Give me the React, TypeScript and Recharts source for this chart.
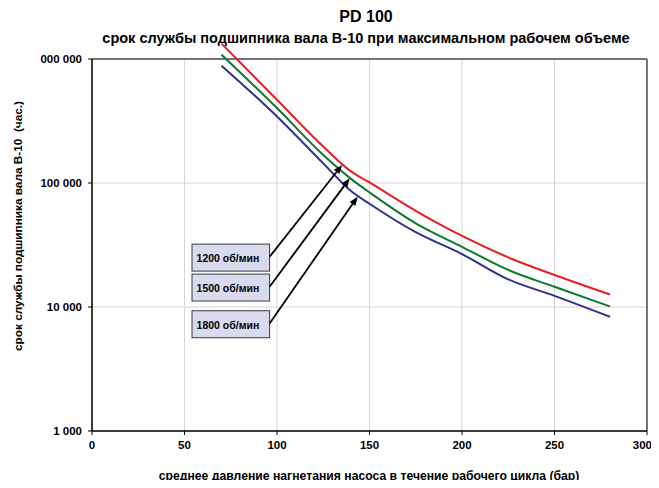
import { LineChart, Line, XAxis, YAxis, CartesianGrid, ReferenceLine } from 'recharts';

// среднее давление (бар)
const pressure = [70, 100, 125, 140, 150, 175, 200, 225, 250, 280];
// срок службы, час.
const life1200 = [1330000, 469000, 197000, 124000, 101000, 59600, 37400, 25100, 18100, 12600];
const life1500 = [1083000, 402000, 168000, 108000, 84000, 47300, 30600, 19900, 14550, 10100];
const life1800 = [883000, 344000, 144000, 86100, 68000, 40100, 26700, 16700, 12300, 8340];

const xTicks = [0, 50, 100, 150, 200, 250, 300];
const yTicks = [1000, 10000, 100000, 1000000];

// подписи со стрелками
const noteLabels = ['1200 об/мин', '1500 об/мин', '1800 об/мин'];
const noteFromX = 96;
const noteFromY = [25400, 14560, 7370];
const noteToX = [135.2, 139.3, 143.6];
const noteToY = [140000, 109000, 77600];

const data = pressure.map((p, i) => ({
  p,
  r1200: life1200[i],
  r1500: life1500[i],
  r1800: life1800[i],
}));

const font = '"Liberation Sans", Arial, sans-serif';

const fmt = (v: number) => String(v).replace(/\B(?=(\d{3})+(?!\d))/g, ' ');

const YTick = (props: any) => {
  const { x, y, payload } = props;
  return (
    <g>
      <clipPath id="ytick-clip">
        <rect x={30} y={0} width={100} height={480} />
      </clipPath>
      <text
        x={x}
        y={y}
        dy={4}
        textAnchor="end"
        fill="#000"
        fontSize={11.5}
        fontWeight="bold"
        fontFamily={font}
        clipPath="url(#ytick-clip)"
      >
        {fmt(payload.value)}
      </text>
    </g>
  );
};

const makeArrow = (label: string) => (props: any) => {
  const { x1, y1, x2, y2 } = props;
  const a = Math.atan2(y2 - y1, x2 - x1);
  const L = 9;
  const W = 3.5;
  const bx = x2 - L * Math.cos(a);
  const by = y2 - L * Math.sin(a);
  const px = -Math.sin(a) * W;
  const py = Math.cos(a) * W;
  return (
    <g>
      <rect x={x1 - 77.6} y={y1 - 12.7} width={77.6} height={27} fill="#d9daee" stroke="#3a3a3a" strokeWidth={1} />
      <text x={x1 - 73} y={y1 + 5.3} fontSize={10.5} fontWeight="bold" fontFamily={font} fill="#000">
        {label}
      </text>
      <line x1={x1} y1={y1} x2={bx} y2={by} stroke="#000" strokeWidth={1.8} />
      <polygon points={`${x2},${y2} ${bx + px},${by + py} ${bx - px},${by - py}`} fill="#000" />
    </g>
  );
};

const App = () => {
  return (
    <div style={{ position: 'relative', width: 643, height: 472, fontFamily: font }}>
      <style>{`
        .recharts-line, .recharts-line g, .recharts-line path { clip-path: none !important; }
        .recharts-surface { overflow: visible; }
      `}</style>
      <div style={{ position: 'absolute', left: 0, width: 716, top: 1, textAlign: 'center', fontSize: 16, lineHeight: '16px', fontWeight: 'bold' }}>
        PD 100
      </div>
      <div style={{ position: 'absolute', left: 0, width: 716, top: 23, textAlign: 'center', fontSize: 14.5, lineHeight: '15px', fontWeight: 'bold', whiteSpace: 'nowrap' }}>
        срок службы подшипника вала В-10 при максимальном рабочем объеме
      </div>
      <LineChart width={643} height={472} data={data} margin={{ top: 51, right: 4, bottom: 19, left: 0 }}>
        <CartesianGrid stroke="#d4d4da" strokeWidth={1} />
        <XAxis
          dataKey="p"
          type="number"
          domain={[0, 300]}
          ticks={xTicks}
          height={30}
          axisLine={{ stroke: '#000', strokeWidth: 1.5 }}
          tickLine={{ stroke: '#000' }}
          tickSize={4}
          tickMargin={6}
          tick={{ fill: '#000', fontSize: 11.5, fontWeight: 'bold', fontFamily: font }}
        />
        <YAxis
          type="number"
          scale="log"
          domain={[1000, 1000000]}
          allowDataOverflow
          ticks={yTicks}
          width={84}
          axisLine={{ stroke: '#000', strokeWidth: 1.5 }}
          tickLine={{ stroke: '#000' }}
          tickSize={4}
          tickMargin={6}
          tick={<YTick />}
        />
        <ReferenceLine y={1000000} stroke="#000" strokeWidth={1.2} />
        <ReferenceLine x={300} stroke="#777" strokeWidth={2} />
        <Line type="monotone" dataKey="r1200" stroke="#ec1c24" strokeWidth={2} dot={false} isAnimationActive={false} />
        <Line type="monotone" dataKey="r1500" stroke="#0b7a2e" strokeWidth={2} dot={false} isAnimationActive={false} />
        <Line type="monotone" dataKey="r1800" stroke="#2e3192" strokeWidth={2} dot={false} isAnimationActive={false} />
        {noteLabels.map((lab, i) => (
          <ReferenceLine
            key={lab}
            segment={[
              { x: noteFromX, y: noteFromY[i] },
              { x: noteToX[i], y: noteToY[i] },
            ]}
            stroke="#000"
            shape={makeArrow(lab)}
          />
        ))}
      </LineChart>
      <div
        style={{
          position: 'absolute',
          left: 9.5,
          top: 218,
          transform: 'translate(-50%, -50%) rotate(-90deg)',
          fontSize: 11.8,
          lineHeight: '13px',
          fontWeight: 'bold',
          whiteSpace: 'pre',
        }}
      >
        {'срок службы подшипника вала В-10  (час.)'}
      </div>
      <div
        style={{
          position: 'absolute',
          left: 0,
          width: 722,
          top: 461,
          textAlign: 'center',
          fontSize: 12.2,
          lineHeight: '14px',
          fontWeight: 'bold',
          whiteSpace: 'nowrap',
        }}
      >
        среднее давление нагнетания насоса в течение рабочего цикла (бар)
      </div>
    </div>
  );
};

export default App;
